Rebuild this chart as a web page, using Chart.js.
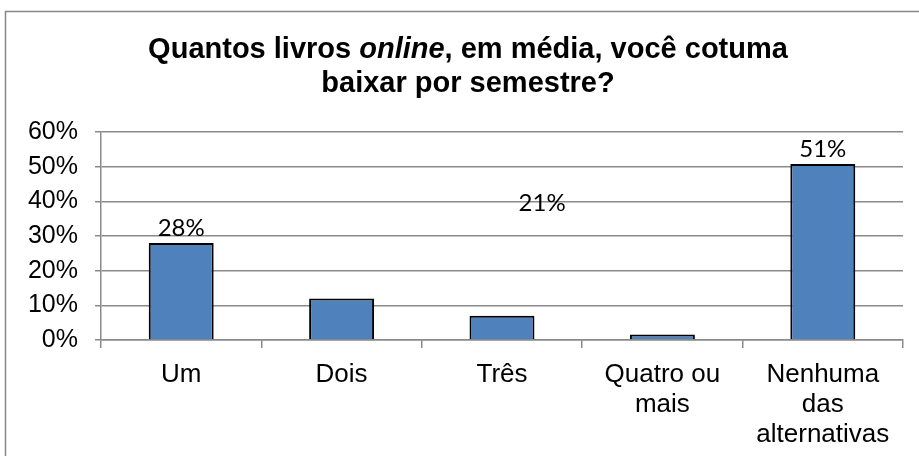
<!DOCTYPE html>
<html>
<head>
<meta charset="utf-8">
<script src="https://cdn.jsdelivr.net/npm/chart.js@4.4.0/dist/chart.umd.min.js"></script>
<style>
  html, body { margin: 0; padding: 0; background: #fff; }
  #chart { display: block; }
</style>
</head>
<body>
<canvas id="chart" width="919" height="456"></canvas>
<script>
const categories = ['Um', 'Dois', 'Três', ['Quatro ou', 'mais'], ['Nenhuma', 'das', 'alternativas']];
const shares = [0.28, 0.12, 0.07, 0.016, 0.508];
const barLabels = ['28%', null, null, null, '51%'];
// stray label sitting between "Três" and "Quatro ou mais" in the original
const strayLabel = { text: '21%', index: 2.25, value: 0.395 };
const yTicks = [0, 0.1, 0.2, 0.3, 0.4, 0.5, 0.6];

const gridGray = '#8a8a8a';
const sans = '"Liberation Sans", Arial, sans-serif';

const frameAndTitle = {
    id: 'frameAndTitle',
    beforeDraw(chart) {
        const ctx = chart.ctx;
        ctx.save();
        ctx.strokeStyle = '#868686';
        ctx.lineWidth = 1.5;
        ctx.strokeRect(5.5, 11.5, 2000, 2000);
        ctx.restore();
    },
    afterDraw(chart) {
        const ctx = chart.ctx;
        const cx = 468;
        ctx.save();
        ctx.fillStyle = '#000';
        ctx.textBaseline = 'alphabetic';
        const bold = 'bold 29px ' + sans;
        const boldIt = 'italic bold 29px ' + sans;
        const parts = [['Quantos livros ', bold], ['online', boldIt], [', em média, você cotuma', bold]];
        let total = 0;
        parts.forEach(p => { ctx.font = p[1]; total += ctx.measureText(p[0]).width; });
        let x = cx - total / 2;
        ctx.textAlign = 'left';
        parts.forEach(p => {
            ctx.font = p[1];
            ctx.fillText(p[0], x, 58);
            x += ctx.measureText(p[0]).width;
        });
        ctx.font = bold;
        ctx.textAlign = 'center';
        ctx.fillText('baixar por semestre?', cx, 92);

        // value labels
        ctx.font = '24px Lato, "Open Sans", sans-serif';
        const meta = chart.getDatasetMeta(0);
        meta.data.forEach((bar, i) => {
            if (barLabels[i]) ctx.fillText(barLabels[i], bar.x, bar.y - 7);
        });
        const xs = chart.scales.x, ys = chart.scales.y;
        ctx.textBaseline = 'middle';
        ctx.fillText(strayLabel.text, xs.getPixelForValue(strayLabel.index), ys.getPixelForValue(strayLabel.value));
        ctx.restore();
    }
};

new Chart(document.getElementById('chart'), {
    type: 'bar',
    data: {
        labels: categories,
        datasets: [{
            data: shares,
            backgroundColor: '#4F81BD',
            borderColor: '#000',
            borderWidth: 2,
            borderSkipped: 'bottom',
            barPercentage: 0.405,
            categoryPercentage: 1
        }]
    },
    options: {
        responsive: false,
        animation: false,
        layout: { padding: { top: 132, right: 16, left: 0, bottom: 0 } },
        plugins: { legend: { display: false }, title: { display: false }, tooltip: { enabled: false } },
        scales: {
            x: {
                offset: true,
                grid: { offset: true, drawOnChartArea: false, drawTicks: true, tickLength: 8, color: gridGray, lineWidth: 1.5 },
                border: { color: gridGray, width: 1.5 },
                ticks: { color: '#000', font: { family: sans, size: 26, lineHeight: 1.15 }, padding: 12, maxRotation: 0, autoSkip: false },
                afterFit(scale) { scale.height = 116; }
            },
            y: {
                min: 0,
                max: 0.6,
                afterBuildTicks(scale) { scale.ticks = yTicks.map(v => ({ value: v })); },
                grid: { color: gridGray, lineWidth: 1.5, tickLength: 6 },
                border: { color: gridGray, width: 1.5 },
                ticks: { color: '#000', font: { family: sans, size: 25 }, padding: 17, callback: v => Math.round(v * 100) + '%' },
                afterFit(scale) { scale.width = 101; }
            }
        }
    },
    plugins: [frameAndTitle]
});
</script>
</body>
</html>
